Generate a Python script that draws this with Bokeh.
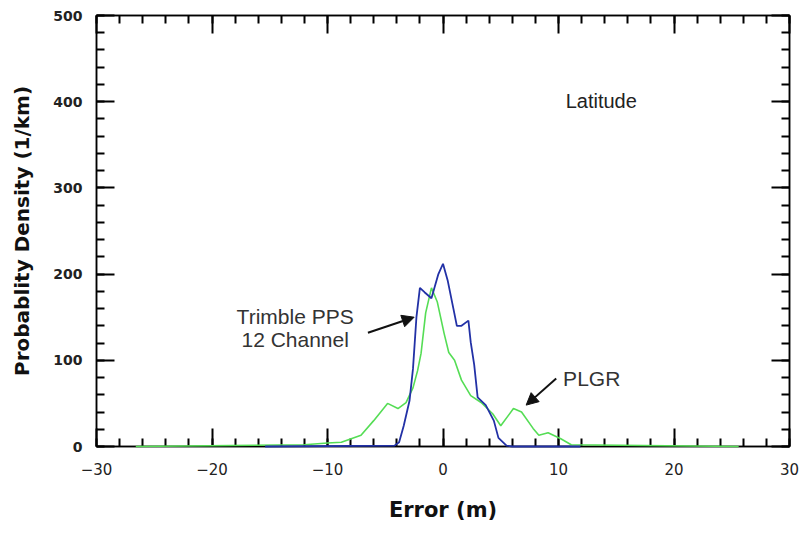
from bokeh.plotting import figure
from bokeh.models import (LinearAxis, FixedTicker, Range1d, Label, Arrow, NormalHead)
from bokeh.embed import file_html
from bokeh.resources import INLINE

# ---- data ----
plgr_x = [-26.6, -12, -10, -8.8, -7.1, -6.0, -4.8, -3.9, -3.2, -2.6, -2.2, -1.9, -1.5,
          -1.0, -0.5, 0.1, 0.5, 1.0, 1.6, 2.4, 3.3, 4.3, 5.0, 6.1, 6.8, 7.8, 8.3, 9.1,
          10.2, 11.1, 25.6]
plgr_y = [0, 2, 4, 5, 13, 30, 50, 44, 51, 68, 88, 108, 155,
          184, 168, 131, 109, 100, 77, 59, 51, 38, 24, 44, 40, 21, 13, 16,
          9, 2, 0]

trimble_x = [-15.4, -4.2, -3.8, -3.4, -2.9, -2.6, -2.3, -2.0, -1.6, -1.0, -0.4, 0.0,
             0.4, 0.9, 1.2, 1.6, 2.2, 2.4, 2.7, 3.0, 3.7, 4.4, 4.8, 5.5, 6.0, 11.9]
trimble_y = [0, 1, 5, 24, 53, 90, 150, 184, 179, 172, 200, 212,
             193, 160, 140, 140, 146, 121, 95, 57, 48, 30, 10, 1, 0, 0]

x_ticks = [-30, -20, -10, 0, 10, 20, 30]
x_minor = list(range(-30, 31, 2))
y_ticks = [0, 100, 200, 300, 400, 500]
y_minor = list(range(0, 501, 20))

x_title = "Error (m)"
y_title = "Probablity Density (1/km)"

# annotation positions (data coords)
latitude_pos = (13.7, 401)
trimble_text_pos = (-12.8, 151, 124)
trimble_arrow = (-6.5, 132, -2.5, 150)
plgr_text_pos = (10.4, 79)
plgr_arrow = (9.8, 79, 7.2, 48)

BLUE = "#2231a6"
GREEN = "#55dd55"

p = figure(width=800, height=530, output_backend="svg", toolbar_location=None,
           x_range=Range1d(-30, 30), y_range=Range1d(0, 500),
           x_axis_type=None, y_axis_type=None,
           min_border_left=96, min_border_right=11, min_border_top=15, min_border_bottom=84)
p.grid.visible = False
p.outline_line_color = "black"
p.outline_line_width = 1.5
p.background_fill_color = "white"
p.border_fill_color = "white"

xt = FixedTicker(ticks=x_ticks, minor_ticks=x_minor)
yt = FixedTicker(ticks=y_ticks, minor_ticks=y_minor)


def style(ax, show_labels):
    ax.axis_line_color = "black"
    ax.axis_line_width = 1.5
    ax.major_tick_in = 18
    ax.major_tick_out = 0
    ax.minor_tick_in = 8
    ax.minor_tick_out = 0
    ax.major_tick_line_width = 2
    ax.minor_tick_line_width = 2
    ax.major_tick_line_color = "black"
    ax.minor_tick_line_color = "black"
    if not show_labels:
        ax.major_label_text_font_size = "0px"
        ax.major_label_standoff = 0
        ax.major_label_text_alpha = 0


xb = LinearAxis(ticker=xt, axis_label=x_title)
style(xb, True)
xb.major_label_text_font = "DejaVu Sans"
xb.major_label_text_font_size = "15px"
xb.major_label_text_color = "#222222"
xb.major_label_standoff = 16
xb.axis_label_text_font = "DejaVu Sans"
xb.axis_label_text_font_style = "bold"
xb.axis_label_text_font_size = "21px"
xb.axis_label_text_color = "#111111"
xb.axis_label_standoff = 20
p.add_layout(xb, "below")

yl = LinearAxis(ticker=yt, axis_label=y_title)
style(yl, True)
yl.major_label_text_font = "DejaVu Sans"
yl.major_label_text_font_style = "bold"
yl.major_label_text_font_size = "14px"
yl.major_label_text_color = "#222222"
yl.major_label_standoff = 14
yl.axis_label_text_font = "DejaVu Sans"
yl.axis_label_text_font_style = "bold"
yl.axis_label_text_font_size = "20px"
yl.axis_label_text_color = "#111111"
yl.axis_label_standoff = 16
p.add_layout(yl, "left")

xa = LinearAxis(ticker=xt)
style(xa, False)
p.add_layout(xa, "above")

yr = LinearAxis(ticker=yt)
style(yr, False)
p.add_layout(yr, "right")

g = p.line(plgr_x, plgr_y, line_color=GREEN, line_width=1.6)
b = p.line(trimble_x, trimble_y, line_color=BLUE, line_width=1.8)
g.level = "annotation"
b.level = "annotation"

font = "Liberation Sans"
p.add_layout(Label(x=latitude_pos[0], y=latitude_pos[1], text="Latitude",
                   text_font=font, text_font_size="20px", text_color="#222222",
                   text_align="center", text_baseline="middle"))
p.add_layout(Label(x=trimble_text_pos[0], y=trimble_text_pos[1], text="Trimble PPS",
                   text_font=font, text_font_size="21px", text_color="#333333",
                   text_align="center", text_baseline="middle"))
p.add_layout(Label(x=trimble_text_pos[0], y=trimble_text_pos[2], text="12 Channel",
                   text_font=font, text_font_size="21px", text_color="#333333",
                   text_align="center", text_baseline="middle"))
p.add_layout(Label(x=plgr_text_pos[0], y=plgr_text_pos[1], text="PLGR",
                   text_font=font, text_font_size="21px", text_color="#333333",
                   text_align="left", text_baseline="middle"))

for (x0, y0, x1, y1) in (trimble_arrow, plgr_arrow):
    p.add_layout(Arrow(x_start=x0, y_start=y0, x_end=x1, y_end=y1,
                       line_color="#111111", line_width=2,
                       end=NormalHead(size=12, fill_color="#111111", line_color="#111111")))

open("out.html", "w").write(file_html(p, INLINE))
